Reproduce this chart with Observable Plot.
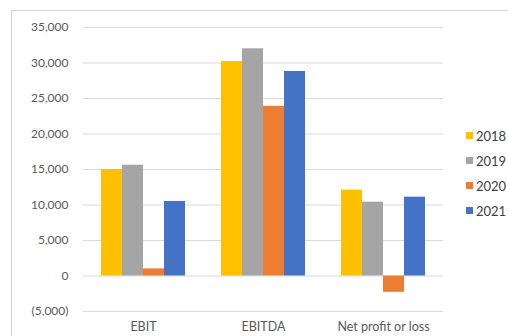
<!DOCTYPE html>
<html>
<head>
<meta charset="utf-8">
<script src="https://cdn.jsdelivr.net/npm/d3@7"></script>
<script src="https://cdn.jsdelivr.net/npm/@observablehq/plot@0.6"></script>
<style>
  html, body { margin: 0; padding: 0; background: #fff; }
  #chart { position: relative; width: 508px; height: 336px; overflow: hidden; font-family: Lato, "Open Sans", sans-serif; }
  #frame { position: absolute; left: 11px; top: 10px; width: 540px; height: 360px; border: 1px solid #d4d4d4; box-sizing: border-box; }
  #plot { position: absolute; left: 0; top: 0; }
  #legend { position: absolute; left: 466px; top: 123px; }
  .row { height: 25px; display: flex; align-items: center; font-size: 13px; color: #404040; white-space: nowrap; }
  .sw { width: 7px; height: 7px; margin-right: 3px; }
  .fx-axis text { font-size: 12.5px; }
</style>
</head>
<body>
<div id="chart">
  <div id="frame"></div>
  <div id="plot"></div>
  <div id="legend"></div>
</div>
<script>
// Financial measures by year
const categories = ["EBIT", "EBITDA", "Net profit or loss"];
const years = ["2018", "2019", "2020", "2021"];
const ebit = [15000, 15600, 1000, 10500];
const ebitda = [30200, 32000, 23900, 28800];
const netProfit = [12100, 10400, -2300, 11100];
const yTicks = [-5000, 0, 5000, 10000, 15000, 20000, 25000, 30000, 35000];
const colors = ["#FFC000", "#A5A5A5", "#ED7D31", "#4472C4"];

const seriesByCategory = [ebit, ebitda, netProfit];
const rows = categories.flatMap((c, i) =>
  years.map((y, j) => ({category: c, year: y, value: seriesByCategory[i][j]}))
);

const fmt = v => v < 0 ? `(${d3.format(",")(-v)})` : d3.format(",")(v);

const chart = Plot.plot({
  width: 508,
  height: 336,
  marginLeft: 82,
  marginRight: 65,
  marginTop: 27,
  marginBottom: 25,
  style: {fontFamily: "Lato, 'Open Sans', sans-serif", fontSize: "12px", color: "#595959", background: "transparent"},
  fx: {domain: categories, padding: 0, label: null, axis: null},
  x: {domain: years, paddingInner: 0, paddingOuter: 0.73, axis: null},
  y: {domain: [-5000, 35000], ticks: yTicks, tickFormat: fmt, label: null, tickSize: 0, tickPadding: 15},
  color: {domain: years, range: colors},
  marks: [
    Plot.ruleY(yTicks, {stroke: "#d9d9d9", strokeWidth: 1}),
    Plot.barY(rows, {fx: "category", x: "year", y: "value", fill: "year"}),
    Plot.axisFx({anchor: "bottom", className: "fx-axis", tickSize: 0, tickPadding: 11, label: null, fontSize: 12.5})
  ]
});
document.getElementById("plot").appendChild(chart);

// Legend
const legend = document.getElementById("legend");
years.forEach((y, i) => {
  const row = document.createElement("div");
  row.className = "row";
  const sw = document.createElement("span");
  sw.className = "sw";
  sw.style.background = colors[i];
  const label = document.createElement("span");
  label.textContent = y;
  row.appendChild(sw);
  row.appendChild(label);
  legend.appendChild(row);
});
</script>
</body>
</html>
